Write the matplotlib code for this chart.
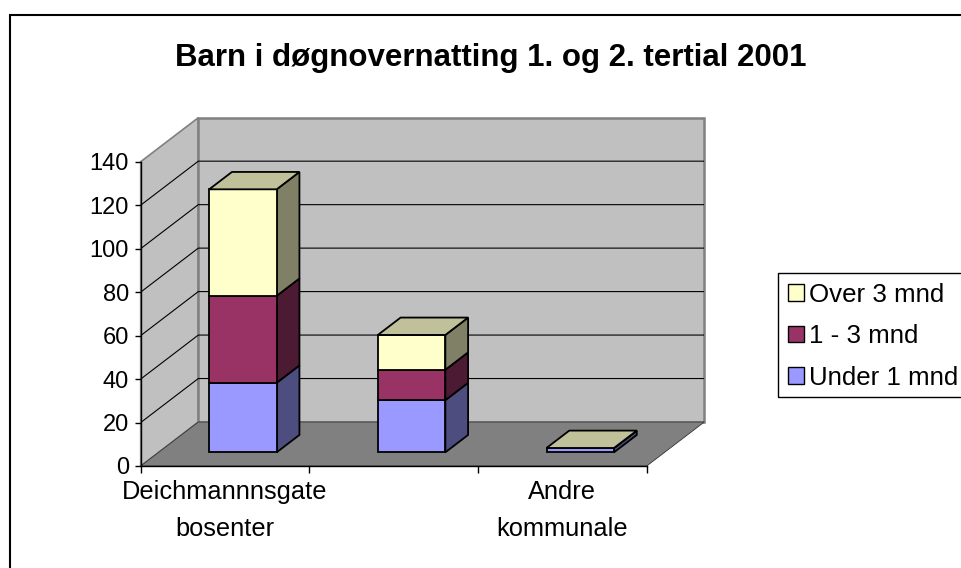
import matplotlib
matplotlib.use("Agg")
import matplotlib.pyplot as plt
from matplotlib.patches import Polygon, Rectangle
import numpy as np

# data
categories = ["Deichmannnsgate\nbosenter", "", "Andre\nkommunale"]
series = ["Under 1 mnd", "1 - 3 mnd", "Over 3 mnd"]
under_1 = [32, 24, 2]
one_to_3 = [40, 14, 0]
over_3 = [49, 16, 0]
yticks = [0, 20, 40, 60, 80, 100, 120, 140]

front_colors = ["#9999FF", "#993366", "#FFFFCC"]
side_colors = ["#4D4D80", "#4D1A33", "#808066"]
top_color = "#C0C09A"   # Excel shows the top face of the last series
wall = "#C0C0C0"
floor = "#808080"

plt.rcParams['font.family'] = ['Liberation Sans', 'DejaVu Sans']

# oblique depth of the floor, in data units
DX, DY = 0.3415, 20.24
z0, z1 = 0.311, 0.706   # bar front / back as fraction of the depth
bw = 0.40
ymax = 140
ncat = len(categories)

fig = plt.figure(figsize=(9.61, 5.68), dpi=100)
ax = fig.add_axes([140.7 / 961, 1 - 466 / 568, 563.6 / 961, 348.3 / 568])
ax.set_xlim(0, ncat + DX)
ax.set_ylim(0, ymax + DY)
ax.patch.set_alpha(0)

# walls and floor
ax.add_patch(Polygon([(0, 0), (DX, DY), (DX, ymax + DY), (0, ymax)],
                     closed=True, fc=wall, ec=floor, lw=1.2, zorder=1, clip_on=False))
ax.add_patch(Polygon([(DX, DY), (ncat + DX, DY), (ncat + DX, ymax + DY), (DX, ymax + DY)],
                     closed=True, fc=wall, ec=floor, lw=1.8, zorder=1, clip_on=False))
for v in yticks[1:-1]:
    ax.plot([0, DX, ncat + DX], [v, v + DY, v + DY], color="black", lw=0.8, zorder=2)
ax.add_patch(Polygon([(0, 0), (ncat, 0), (ncat + DX, DY), (DX, DY)],
                     closed=True, fc=floor, ec="#333333", lw=0.6, zorder=3, clip_on=False))

# stacked 3D bars
stack = np.array([under_1, one_to_3, over_3], dtype=float)
dd = z1 - z0
for i in range(ncat):
    xc = i + 0.5 + z0 * DX
    x0, x1 = xc - bw / 2, xc + bw / 2
    bottom = 0.0
    for s in range(len(series)):
        h = stack[s, i]
        yb = bottom + z0 * DY
        yt = yb + h
        ax.bar(xc, h, width=bw, bottom=yb, color=front_colors[s],
               edgecolor="black", linewidth=1.3, zorder=5)
        ax.add_patch(Polygon([(x1, yb), (x1 + dd * DX, yb + dd * DY),
                              (x1 + dd * DX, yt + dd * DY), (x1, yt)],
                             closed=True, fc=side_colors[s], ec="black", lw=1.3, zorder=4))
        bottom += h
    yt = bottom + z0 * DY
    ax.add_patch(Polygon([(x0, yt), (x1, yt), (x1 + dd * DX, yt + dd * DY),
                          (x0 + dd * DX, yt + dd * DY)],
                         closed=True, fc=top_color, ec="black", lw=1.3, zorder=6))

# axes
for side in ["top", "right"]:
    ax.spines[side].set_visible(False)
ax.spines["left"].set_bounds(0, ymax)
ax.spines["bottom"].set_bounds(0, ncat)
ax.spines["left"].set_zorder(7)
ax.spines["bottom"].set_zorder(7)
ax.spines["left"].set_linewidth(1.0)
ax.spines["bottom"].set_linewidth(1.0)
ax.set_yticks(yticks)
ax.tick_params(axis="y", direction="out", length=4.5, width=1.0, pad=4, labelsize=17)
ax.set_xticks(np.arange(ncat + 1))
ax.set_xticklabels([])
ax.set_xticks(np.arange(ncat) + 0.5, minor=True)
ax.set_xticklabels(categories, minor=True, fontsize=18.3, linespacing=1.68)
ax.tick_params(axis="x", which="major", direction="out", length=5, width=1.0)
ax.tick_params(axis="x", which="minor", length=0, pad=10)

fig.text(491 / 961, 1 - 58 / 568, "Barn i døgnovernatting 1. og 2. tertial 2001",
         ha="center", va="center", fontsize=22.5, fontweight="bold")

# legend; its box runs off the right edge of the picture
handles = [Rectangle((0, 0), 1, 1, fc=front_colors[s], ec="black", lw=1.0)
           for s in range(len(series))][::-1]
leg = fig.legend(handles, series[::-1], loc="upper left",
                 bbox_to_anchor=(778 / 961, 1 - 272.7 / 568), borderaxespad=0,
                 fontsize=18.6, handlelength=0.62, handleheight=0.62,
                 handletextpad=0.2, labelspacing=0.68, borderpad=0.38,
                 frameon=False)
fig.add_artist(Rectangle((778 / 961, 1 - 396.7 / 568), 0.3, 124 / 568,
                         transform=fig.transFigure, fill=False, ec="black", lw=1.0))

# outer chart frame (cut off at the right and bottom)
fig.add_artist(Rectangle((10 / 961, -0.5), 2, 0.5 + 1 - 15 / 568, transform=fig.transFigure,
                         fill=False, ec="black", lw=1.5))

fig.savefig("out.png", dpi=100)
